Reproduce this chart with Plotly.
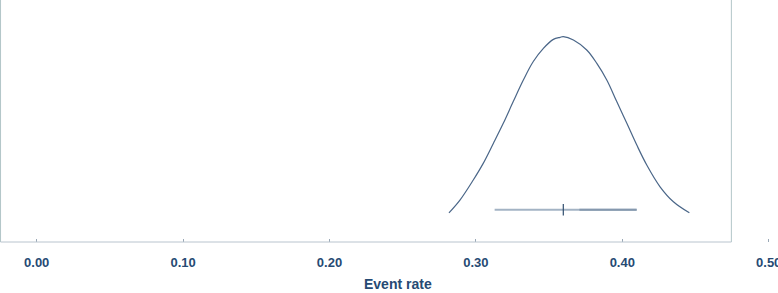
import plotly.graph_objects as go

# Density curve (event rate, relative height)
curve_x = [0.2816, 0.2891, 0.2982, 0.3050, 0.3119, 0.3187, 0.3255, 0.3324, 0.3392,
           0.3461, 0.3529, 0.3575, 0.3597, 0.3666, 0.3757, 0.3826, 0.3894, 0.3962,
           0.4031, 0.4099, 0.4167, 0.4258, 0.4349, 0.4458]
curve_y = [0.142, 0.204, 0.302, 0.383, 0.480, 0.578, 0.684, 0.789, 0.879,
           0.943, 0.987, 0.997, 1.000, 0.984, 0.935, 0.870, 0.789, 0.684,
           0.578, 0.472, 0.375, 0.269, 0.196, 0.142]

point_est = 0.3597
ci_low = 0.3128
ci_high = 0.4098
ci_level = 0.157

tick_vals = [0.0, 0.1, 0.2, 0.3, 0.4, 0.5]
tick_text = ["0.00", "0.10", "0.20", "0.30", "0.40", "0.50"]

x_range = [-0.02507, 0.50635]
box_left = -0.0247
box_right = 0.4745

font_fam = "Liberation Sans, Arial, sans-serif"
text_color = "#264a73"

fig = go.Figure()
fig.add_trace(go.Scatter(x=curve_x, y=curve_y, mode="lines",
                         line=dict(color="#4a6688", width=1.2, shape="spline"),
                         hoverinfo="skip", showlegend=False))
fig.add_trace(go.Scatter(x=[ci_low, ci_high], y=[ci_level, ci_level], mode="lines",
                         line=dict(color="#a3b3c4", width=2),
                         hoverinfo="skip", showlegend=False))
fig.add_trace(go.Scatter(x=[point_est + 0.011, ci_high], y=[ci_level, ci_level], mode="lines",
                         line=dict(color="#8598ae", width=2),
                         hoverinfo="skip", showlegend=False))
fig.add_trace(go.Scatter(x=[point_est, point_est], y=[ci_level - 0.028, ci_level + 0.028],
                         mode="lines", line=dict(color="#2f4d6e", width=1.2),
                         hoverinfo="skip", showlegend=False))

frame_color = "#b2c6c8"
fig.add_shape(type="line", xref="x", yref="paper", x0=box_left, x1=box_left, y0=0, y1=1,
              line=dict(color=frame_color, width=1))
fig.add_shape(type="line", xref="x", yref="paper", x0=box_right, x1=box_right, y0=0, y1=1,
              line=dict(color=frame_color, width=1))
fig.add_shape(type="line", xref="x", yref="paper", x0=box_left, x1=box_right, y0=0, y1=0,
              line=dict(color="#b9c4ce", width=1))

fig.add_annotation(text="Event rate", xref="x", yref="paper", x=0.2468, y=-0.1736,
                   xanchor="center", yanchor="middle", showarrow=False,
                   font=dict(family=font_fam, size=14, color=text_color, weight="bold"))

fig.update_layout(
    width=778, height=293,
    margin=dict(l=0, r=0, t=0, b=51, pad=0, autoexpand=False),
    plot_bgcolor="white", paper_bgcolor="white",
    xaxis=dict(range=x_range, tickvals=tick_vals, ticktext=tick_text,
               ticks="inside", ticklen=3, tickcolor="#9aa8b6", tickwidth=1,
               showgrid=False, zeroline=False, showline=False, automargin=False,
               tickfont=dict(family=font_fam, size=13, color=text_color, weight="bold"),
               ticklabelstandoff=11, ticklabeloverflow="allow"),
    yaxis=dict(range=[0, 1.1787], showticklabels=False, showgrid=False,
               zeroline=False, showline=False, ticks="", automargin=False),
)

fig.write_html("out.html", config={"displayModeBar": False},
               post_script="document.body.style.margin='0';document.body.style.overflow='hidden';")
